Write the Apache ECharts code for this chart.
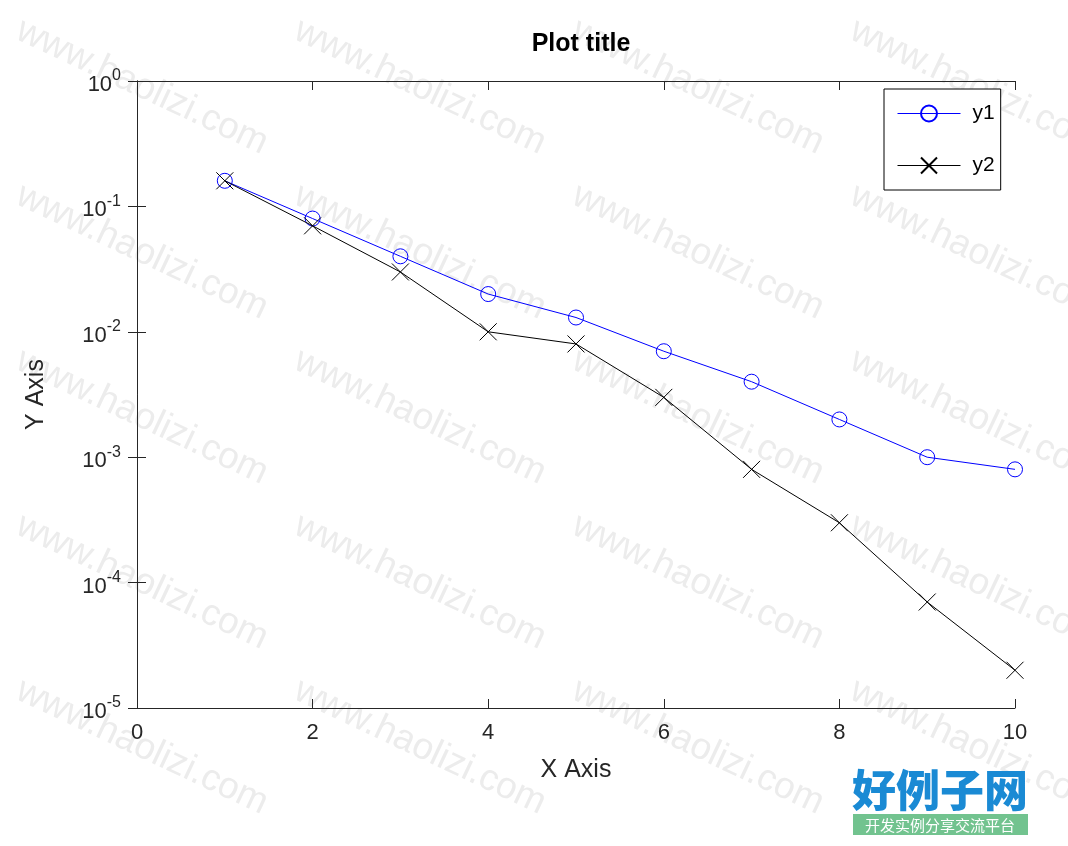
<!DOCTYPE html>
<html lang="en">

<head>
    <meta charset="UTF-8">
    <title>Plot title</title>
    <script src="https://cdn.jsdelivr.net/npm/echarts@6/dist/echarts.min.js"></script>
    <style>
        * {
            margin: 0px;
            padding: 0px;
        }

        #chart {
            width: 1068px;
            height: 846px;
            background: #fff;
        }
    </style>
</head>

<body>
    <div id="chart"></div>

    <script type="text/javascript">
        // data
        var xValues = [1, 2, 3, 4, 5, 6, 7, 8, 9, 10];
        var y1 = [0.16, 0.08, 0.04, 0.02, 0.013, 0.007, 0.004, 0.002, 0.001, 0.0008];
        var y2 = [0.16, 0.07, 0.03, 0.01, 0.008, 0.003, 0.0008, 0.0003, 0.00007, 0.00002];
        var seriesNames = ['y1', 'y2'];
        var seriesColors = ['#0000ff', '#000000'];

        var watermarkText = 'www.haolizi.com';
        var watermarkCols = [142, 420, 698, 976];
        var watermarkRows = [87, 252, 417, 582, 747];

        function pairs(ys) {
            return xValues.map(function (x, i) { return [x, ys[i]]; });
        }

        // 10^n labels
        function powLabel(v) {
            var e = Math.round(Math.log10(v));
            return '{b|10}{s|' + e + '}';
        }

        var font = 'Liberation Sans, Arial, sans-serif';
        var axisColor = '#262626';

        var graphics = [];
        watermarkRows.forEach(function (ry) {
            watermarkCols.forEach(function (cx) {
                graphics.push({
                    type: 'text',
                    x: cx,
                    y: ry,
                    rotation: -0.44,
                    z: -10,
                    silent: true,
                    style: {
                        text: watermarkText,
                        fill: '#ececec',
                        font: '37px ' + font,
                        align: 'center',
                        verticalAlign: 'middle'
                    }
                });
            });
        });

        // logo bottom right
        graphics.push({
            type: 'text',
            x: 940,
            y: 790,
            z: 10,
            style: {
                text: '好例子网',
                fill: '#1a8ad4',
                font: '900 44px "Noto Sans CJK SC"',
                align: 'center',
                verticalAlign: 'middle'
            }
        });
        graphics.push({
            type: 'rect',
            shape: { x: 853, y: 814, width: 175, height: 21 },
            z: 10,
            style: { fill: '#72c38f' }
        });
        graphics.push({
            type: 'text',
            x: 940,
            y: 825,
            z: 11,
            style: {
                text: '开发实例分享交流平台',
                fill: '#fff',
                font: '15px "Noto Sans CJK SC"',
                align: 'center',
                verticalAlign: 'middle'
            }
        });

        var myChart = echarts.init(document.getElementById('chart'));

        var option = {
            animation: false,
            backgroundColor: '#fff',
            title: {
                text: 'Plot title',
                left: 576,
                textAlign: 'center',
                top: 27,
                textStyle: {
                    fontFamily: font,
                    fontSize: 25,
                    fontWeight: 'bold',
                    color: '#000'
                }
            },
            grid: {
                left: 137,
                right: 53,
                top: 81,
                bottom: 138,
                containLabel: false
            },
            legend: {
                left: 884,
                top: 89,
                orient: 'vertical',
                backgroundColor: '#fff',
                borderColor: '#000',
                borderWidth: 1,
                borderRadius: 0,
                padding: [14, 6, 14, 13],
                itemWidth: 63,
                itemHeight: 20,
                itemGap: 31,
                textStyle: {
                    fontFamily: font,
                    fontSize: 21,
                    color: '#000',
                    padding: [0, 0, 0, 7]
                },
                data: seriesNames.map(function (n, i) {
                    return { name: n, lineStyle: { color: seriesColors[i], width: 1 } };
                })
            },
            xAxis: [{
                type: 'value',
                min: 0,
                max: 10,
                interval: 2,
                name: 'X Axis',
                nameLocation: 'middle',
                nameGap: 50,
                nameTextStyle: { fontFamily: font, fontSize: 25, color: axisColor },
                axisLine: { lineStyle: { color: axisColor } },
                axisTick: { inside: true, length: 9, lineStyle: { color: axisColor } },
                axisLabel: { fontFamily: font, fontSize: 22, color: axisColor, margin: 14 },
                splitLine: { show: false }
            }, {
                type: 'value',
                position: 'top',
                min: 0,
                max: 10,
                interval: 2,
                axisLine: { lineStyle: { color: axisColor } },
                axisTick: { inside: true, length: 9, lineStyle: { color: axisColor } },
                axisLabel: { show: false },
                splitLine: { show: false }
            }],
            yAxis: [{
                type: 'log',
                logBase: 10,
                min: 1e-5,
                max: 1,
                interval: 1,
                name: 'Y Axis',
                nameLocation: 'middle',
                nameGap: 88,
                nameTextStyle: { fontFamily: font, fontSize: 25, color: axisColor },
                axisLine: { lineStyle: { color: axisColor } },
                axisTick: { inside: true, length: 9, lineStyle: { color: axisColor } },
                minorTick: { show: false },
                axisLabel: {
                    margin: 16,
                    formatter: powLabel,
                    rich: {
                        b: { fontFamily: font, fontSize: 22, color: axisColor, padding: [8, 0, 0, 0] },
                        s: { fontFamily: font, fontSize: 16, color: axisColor, padding: [0, 0, 10, 0] }
                    }
                },
                splitLine: { show: false }
            }, {
                type: 'log',
                logBase: 10,
                position: 'right',
                min: 1e-5,
                max: 1,
                interval: 1,
                axisLine: { show: true, lineStyle: { color: axisColor } },
                axisTick: { inside: true, length: 9, lineStyle: { color: axisColor } },
                axisLabel: { show: false },
                splitLine: { show: false }
            }],
            series: [{
                name: seriesNames[0],
                type: 'line',
                data: pairs(y1),
                symbol: 'circle',
                symbolSize: 15,
                showAllSymbol: true,
                lineStyle: { color: seriesColors[0], width: 1 },
                itemStyle: { color: 'rgba(0,0,0,0)', borderColor: seriesColors[0], borderWidth: 1 },
                z: 3
            }, {
                name: seriesNames[1],
                type: 'line',
                data: pairs(y2),
                symbol: 'path://M0,0L10,10M10,0L0,10',
                symbolSize: 17,
                showAllSymbol: true,
                lineStyle: { color: seriesColors[1], width: 1 },
                itemStyle: { color: seriesColors[1], borderColor: seriesColors[1], borderWidth: 1 },
                z: 4
            }],
            graphic: graphics
        };

        myChart.setOption(option);
    </script>
</body>

</html>
